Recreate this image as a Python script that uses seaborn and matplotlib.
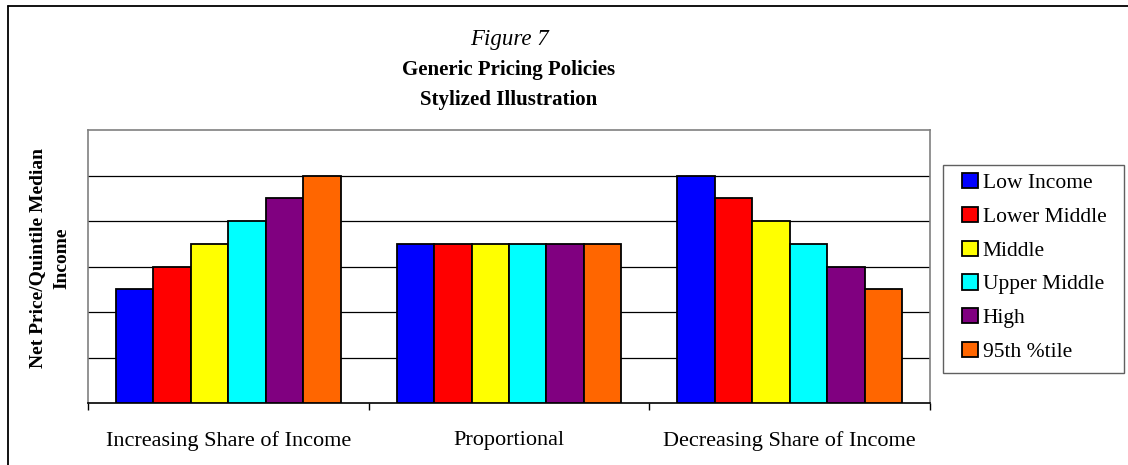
import matplotlib
matplotlib.use("Agg")
import matplotlib.pyplot as plt
from matplotlib.lines import Line2D
from matplotlib.patches import Rectangle
import seaborn as sns
import pandas as pd

# data
policies = ["Increasing Share of Income", "Proportional", "Decreasing Share of Income"]
groups = ["Low Income", "Lower Middle", "Middle", "Upper Middle", "High", "95th %tile"]
increasing = [2.5, 3.0, 3.5, 4.0, 4.5, 5.0]
proportional = [3.5, 3.5, 3.5, 3.5, 3.5, 3.5]
decreasing = [5.0, 4.5, 4.0, 3.5, 3.0, 2.5]
colors = ["#0000FF", "#FF0000", "#FFFF00", "#00FFFF", "#800080", "#FF6600"]

rows = []
for policy, vals in zip(policies, [increasing, proportional, decreasing]):
    for g, v in zip(groups, vals):
        rows.append({"policy": policy, "group": g, "value": v})
df = pd.DataFrame(rows)

sns.set_style("white")
plt.rcParams["font.family"] = ["Liberation Serif", "DejaVu Serif"]
plt.rcParams["text.color"] = "black"
plt.rcParams["axes.labelcolor"] = "black"
plt.rcParams["xtick.color"] = "black"

W, H = 1128, 465
fig = plt.figure(figsize=(W / 100, H / 100), dpi=100)
ax = fig.add_axes([88 / W, 1 - 403 / H, (930 - 88) / W, (403 - 130) / H])

sns.barplot(data=df, x="policy", y="value", hue="group", palette=colors,
            order=policies, hue_order=groups, width=0.8, saturation=1,
            edgecolor="black", linewidth=1.3, ax=ax, zorder=3)

ax.set_ylim(0, 6)
ax.set_xlim(-0.5, 2.5)
ax.set_yticks([1, 2, 3, 4, 5])
ax.set_yticklabels([])
ax.tick_params(axis="y", length=0)
ax.yaxis.grid(True, color="black", linewidth=0.9, zorder=0)

# ticks between categories
ax.set_xticks([-0.5, 0.5, 1.5, 2.5], minor=True)
ax.tick_params(axis="x", which="minor", length=5, width=1, color="black", direction="out", bottom=True)
ax.tick_params(axis="x", which="major", length=0, labelsize=16, pad=20, labelcolor="black")
ax.set_xlabel("")
ax.set_ylabel("Net Price/Quintile Median\nIncome", fontsize=14, fontweight="bold",
              linespacing=1.5, color="black")
ax.yaxis.set_label_coords(-18 / 842, 0.53)

for side in ["left", "top", "right"]:
    ax.spines[side].set_color("#808080")
    ax.spines[side].set_linewidth(1.2)
ax.spines["bottom"].set_color("black")
ax.spines["bottom"].set_linewidth(1.2)

# titles
fig.text(509 / W, 1 - 40 / H, "Figure 7", ha="center", va="center", fontsize=16.5, style="italic")
fig.text(509 / W, 1 - 70 / H, "Generic Pricing Policies", ha="center", va="center", fontsize=15, fontweight="bold")
fig.text(509 / W, 1 - 100 / H, "Stylized Illustration", ha="center", va="center", fontsize=15, fontweight="bold")

# legend (frame drawn separately to get the wide left padding)
handles, labels = ax.get_legend_handles_labels()
if ax.legend_:
    ax.legend_.remove()
fig.legend(handles, labels, loc="upper left", bbox_to_anchor=(962 / W, 1 - 173 / H),
           frameon=False, fontsize=15.5, handlelength=0.72, handleheight=0.72,
           handletextpad=0.25, labelspacing=0.63, borderpad=0, borderaxespad=0)
fig.add_artist(Rectangle((943 / W, 1 - 373 / H), (1124 - 943) / W, (373 - 165) / H,
                         transform=fig.transFigure, fill=False, edgecolor="#606060", lw=1.0))

# outer chart border
fig.add_artist(Line2D([8 / W, 8 / W], [0, 1 - 6 / H], transform=fig.transFigure, color="black", lw=1.3))
fig.add_artist(Line2D([8 / W, 1], [1 - 6 / H, 1 - 6 / H], transform=fig.transFigure, color="black", lw=1.3))

fig.savefig("out.png", dpi=100)
